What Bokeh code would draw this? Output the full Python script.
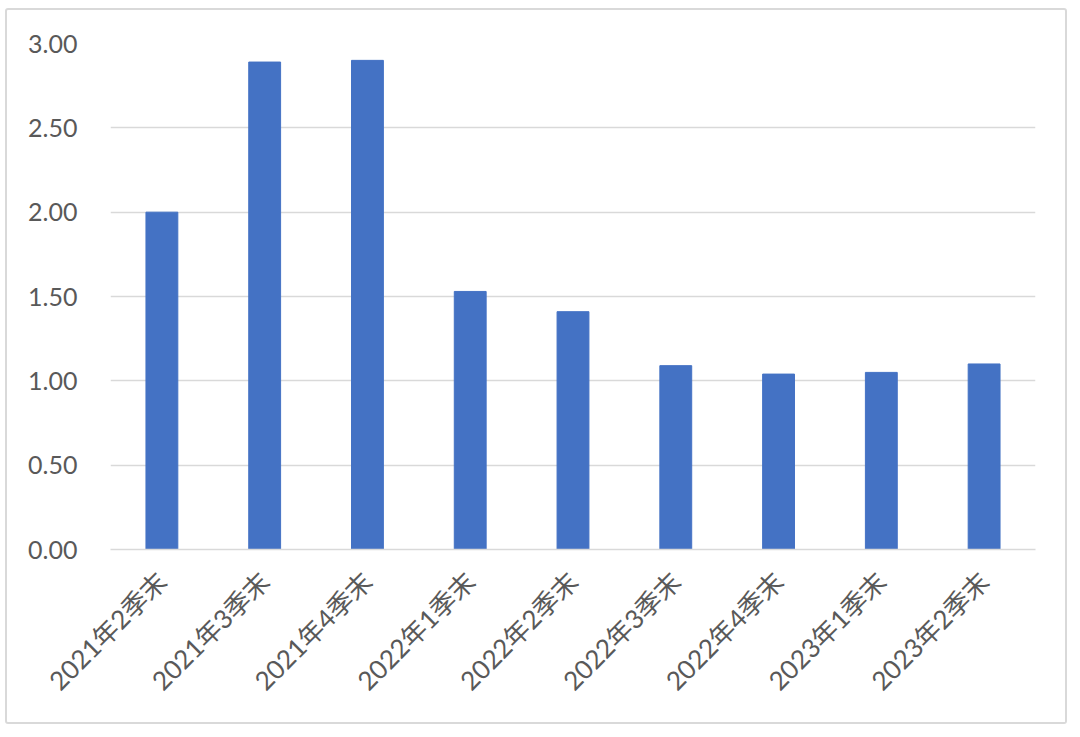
from bokeh.plotting import figure
from bokeh.models import Range1d, NumeralTickFormatter, FixedTicker
from bokeh.embed import file_html
from bokeh.resources import INLINE
import math

categories = ["2021年2季末", "2021年3季末", "2021年4季末", "2022年1季末", "2022年2季末",
              "2022年3季末", "2022年4季末", "2023年1季末", "2023年2季末"]
values = [2.00, 2.89, 2.90, 1.53, 1.41, 1.09, 1.04, 1.05, 1.10]
y_ticks = [0.0, 0.5, 1.0, 1.5, 2.0, 2.5, 3.0]

FONT = "Lato, 'Noto Sans CJK SC', sans-serif"

p = figure(x_range=categories, y_range=Range1d(0, 3), width=1062, height=716,
           output_backend="svg", toolbar_location=None,
           min_border_left=103, min_border_right=34, min_border_top=33, min_border_bottom=177)
p.styles = {"border": "2px solid #d9d9d9", "border-radius": "3px", "margin": "8px 0px 0px 5px"}

p.vbar(x=categories, top=values, width=0.31, color="#4472C4")

p.outline_line_color = None
p.xgrid.grid_line_color = None
p.ygrid.grid_line_color = "#d9d9d9"
p.ygrid.grid_line_width = 1.5

p.yaxis.ticker = FixedTicker(ticks=y_ticks)
p.yaxis.formatter = NumeralTickFormatter(format="0.00")
p.yaxis.axis_line_color = None
p.yaxis.major_tick_line_color = None
p.yaxis.minor_tick_line_color = None
p.yaxis.major_label_standoff = 27
p.yaxis.major_label_text_font = FONT
p.yaxis.major_label_text_font_size = "25px"
p.yaxis.major_label_text_color = "#595959"

p.xaxis.axis_line_color = "#d9d9d9"
p.xaxis.axis_line_width = 1.5
p.xaxis.major_tick_line_color = None
p.xaxis.minor_tick_line_color = None
p.xaxis.major_label_orientation = math.pi / 4
p.xaxis.major_label_standoff = 21
p.xaxis.major_label_text_font = FONT
p.xaxis.major_label_text_font_size = "26px"
p.xaxis.major_label_text_color = "#595959"

p.background_fill_color = "white"
p.border_fill_color = "white"

open("out.html", "w").write(file_html(p, INLINE))
